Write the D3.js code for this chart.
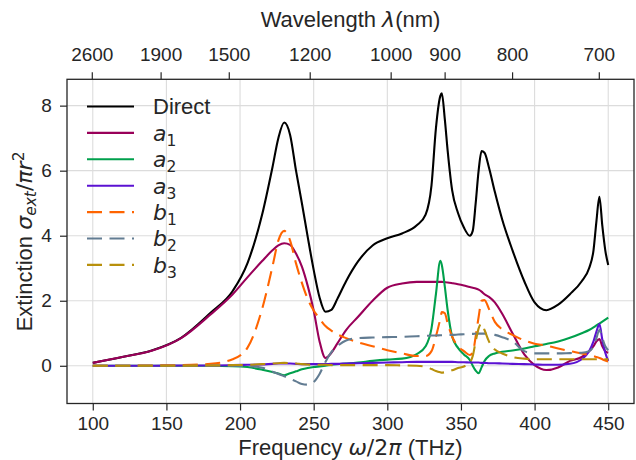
<!DOCTYPE html>
<html><head><meta charset="utf-8">
<script src="https://cdn.jsdelivr.net/npm/d3@7"></script>
<style>body{margin:0;background:#fff} svg{display:block}</style>
</head><body>
<script>
// ---------------- data ----------------
const freq = [100,120,140,160,180,195,205,215,222,226,230,234,238,242,246,250,254,258,262,266,272,280,290,300,310,320,326,330,333,336,337,339,341,344,348,352,356,358,360,362,364,366,369,373,378,385,393,400,408,416,424,432,437,440,442,444,446,448,450];
const direct = [0.09,0.27,0.47,0.86,1.63, 2.3,3.15,4.65,6.1,7.0, 7.48,7.1,6.0,5.0,3.95, 2.95,2.1,1.66,1.72,2.05, 2.6,3.2,3.7,3.92,4.07, 4.32,4.65,5.55,7.3,8.3, 8.38,7.6,6.6,5.4,4.7, 4.25,4.0,4.15,5.0,6.0, 6.6,6.55,6.1,5.35,4.5, 3.55,2.6,1.95,1.71,1.88, 2.2,2.6,3.0,3.55,4.45, 5.2,4.3,3.55,3.1];
const a1 = [0.09,0.27,0.46,0.85,1.58, 2.2,2.72,3.22,3.55,3.7, 3.77,3.72,3.45,3.05,2.45, 1.7,0.75,0.24,0.4,0.68, 1.1,1.5,2.0,2.4,2.53, 2.58,2.58,2.58,2.58,2.58, 2.58,2.57,2.56,2.54,2.51, 2.47,2.42,2.4,2.38,2.34, 2.28,2.2,2.12,1.95,1.6, 1.0,0.35,0.02,-0.13,-0.05, 0.15,0.27,0.45,0.6,0.75, 0.82,0.6,0.45,0.4];
const a2 = [0,0,0,0,0, -0.01,-0.04,-0.12,-0.19,-0.24, -0.29,-0.23,-0.17,-0.11,-0.07, -0.04,-0.02,0.0,0.03,0.05, 0.07,0.1,0.15,0.19,0.22, 0.36,0.6,1.15,2.2,3.23, 3.1,2.45,1.7,0.9,0.55, 0.35,0.18,0.0,-0.15,-0.23, -0.05,0.15,0.3,0.38,0.43, 0.47,0.53,0.6,0.67,0.75, 0.86,1.0,1.1,1.18,1.24, 1.3,1.36,1.42,1.48];
const a3 = [0,0,0,0.01,0.01, 0.02,0.03,0.04,0.06,0.07, 0.07,0.07,0.06,0.05,0.05, 0.05,0.05,0.05,0.06,0.06, 0.07,0.08,0.09,0.1,0.11, 0.12,0.12,0.12,0.12,0.12, 0.12,0.12,0.12,0.12,0.11, 0.11,0.1,0.1,0.1,0.1, 0.09,0.09,0.08,0.08,0.07, 0.06,0.05,0.04,0.03,0.03, 0.06,0.2,0.45,0.75,1.05, 1.28,0.8,0.4,0.15];
const b1 = [0,0,0.01,0.02,0.06, 0.2,0.55,1.75,3.05,3.85, 4.15,3.85,3.15,2.55,2.05, 1.7,1.45,1.22,1.08,0.97, 0.85,0.72,0.6,0.48,0.38, 0.3,0.3,0.45,0.9,1.45, 1.65,1.62,1.3,0.9,0.6, 0.45,0.33,0.4,0.9,1.5, 2.0,2.02,1.75,1.35,1.12, 0.95,0.78,0.68,0.62,0.53, 0.45,0.38,0.33,0.3,0.27, 0.24,0.2,0.16,0.13];
const b2 = [0,0,0,0,0, 0,-0.01,-0.06,-0.18,-0.25, -0.32,-0.4,-0.48,-0.56,-0.58, -0.5,-0.25,0.12,0.42,0.6, 0.78,0.85,0.87,0.88,0.89, 0.91,0.92,0.93,0.93,0.94, 0.94,0.94,0.95,0.95,0.96, 0.97,0.98,0.98,0.99,0.99, 0.99,0.99,0.98,0.95,0.88, 0.75,0.45,0.38,0.38,0.38, 0.39,0.4,0.45,0.6,0.85, 1.1,0.85,0.6,0.48];
const b3 = [0,0,0,0,0.01, 0.02,0.03,0.05,0.07,0.08, 0.09,0.08,0.07,0.05,0.04, 0.03,0.03,0.03,0.02,0.02, 0.02,0.02,0.02,0.02,0.01, 0.0,-0.03,-0.1,-0.16,-0.2, -0.21,-0.2,-0.18,-0.14,-0.07, -0.02,0.1,0.3,0.75,1.15, 1.3,1.1,0.75,0.5,0.38, 0.27,0.22,0.2,0.2,0.2, 0.2,0.2,0.2,0.2,0.2, 0.21,0.2,0.2,0.2];

const xTicks = [100,150,200,250,300,350,400,450];
const yTicks = [0,2,4,6,8];
const wavelengthTicks = [2600,1900,1500,1200,1000,900,800,700];

// ---------------- styling ----------------
const series = [
  {name:"Direct", sub:null, values:direct, color:"#000000", dash:null},
  {name:"a", sub:"1", values:a1, color:"#990059", dash:null},
  {name:"a", sub:"2", values:a2, color:"#00a04c", dash:null},
  {name:"a", sub:"3", values:a3, color:"#5b12d2", dash:null},
  {name:"b", sub:"1", values:b1, color:"#ff6400", dash:"15,7.5"},
  {name:"b", sub:"2", values:b2, color:"#627c92", dash:"15,7.5"},
  {name:"b", sub:"3", values:b3, color:"#b8900c", dash:"15,7.5"}
];

const W = 636, H = 460;
const L = 67, R = 634, T = 79.3, B = 403.5;
const FONT = "'Liberation Sans', Arial, sans-serif";
const MATH = "'DejaVu Sans', sans-serif";
const TXT = "#262626";

const svg = d3.select("body").append("svg").attr("width", W).attr("height", H)
  .style("font-family", FONT);

const x = d3.scaleLinear().domain([82.5, 467.5]).range([L, R]);
const y = d3.scaleLinear().domain([-1.16, 8.81]).range([B, T]);
const xTop = d3.scaleLinear().domain([100, 450]).range([L, R]);
const c = 299792.458; // nm*THz

// grid
const grid = svg.append("g");
grid.selectAll("line.vx").data(xTicks).join("line")
  .attr("x1", d => x(d)).attr("x2", d => x(d)).attr("y1", T).attr("y2", B)
  .attr("stroke", "#dcdcdc").attr("stroke-width", 1.1);
grid.selectAll("line.hy").data(yTicks).join("line")
  .attr("y1", d => y(d)).attr("y2", d => y(d)).attr("x1", L).attr("x2", R)
  .attr("stroke", "#dcdcdc").attr("stroke-width", 1.1);

// lines
svg.append("clipPath").attr("id", "clip").append("rect")
  .attr("x", L).attr("y", T).attr("width", R - L).attr("height", B - T);
const line = d3.line().x(d => x(d[0])).y(d => y(d[1])).curve(d3.curveMonotoneX);
const plot = svg.append("g").attr("clip-path", "url(#clip)");
series.forEach(s => {
  plot.append("path")
    .attr("d", line(freq.map((f, i) => [f, s.values[i]])))
    .attr("fill", "none").attr("stroke", s.color).attr("stroke-width", 2.1)
    .attr("stroke-linejoin", "round")
    .attr("stroke-dasharray", s.dash);
});

// axes
function styleAxis(g) {
  g.select(".domain").remove();
  g.selectAll(".tick line").attr("stroke", TXT).attr("stroke-width", 1.2);
  g.selectAll(".tick text").attr("fill", TXT).style("font-size", "19px").style("font-family", FONT);
}
svg.append("g").attr("transform", `translate(0,${B})`)
  .call(d3.axisBottom(x).tickValues(xTicks).tickSize(7).tickPadding(5.8).tickFormat(d3.format("d")))
  .call(styleAxis);
svg.append("g").attr("transform", `translate(${L},0)`)
  .call(d3.axisLeft(y).tickValues(yTicks).tickSize(7).tickPadding(8.3).tickFormat(d3.format("d")))
  .call(styleAxis);
svg.append("g").attr("transform", `translate(0,${T})`)
  .call(d3.axisTop(xTop).tickValues(wavelengthTicks.map(l => c / l)).tickSize(7).tickPadding(11)
    .tickFormat((d, i) => wavelengthTicks[i]))
  .call(styleAxis);

// frame
svg.append("rect").attr("x", L).attr("y", T).attr("width", R - L).attr("height", B - T)
  .attr("fill", "none").attr("stroke", TXT).attr("stroke-width", 1.3);

// axis titles
const xt = svg.append("text").attr("x", (L + R) / 2).attr("y", 455).attr("text-anchor", "middle")
  .attr("fill", TXT).style("font-size", "22px");
xt.append("tspan").text("Frequency ");
xt.append("tspan").style("font-family", MATH).style("font-style", "italic").text("ω");
xt.append("tspan").style("font-family", MATH).text("/2");
xt.append("tspan").style("font-family", MATH).style("font-style", "italic").text("π");
xt.append("tspan").text(" (THz)");

const tt = svg.append("text").attr("x", (L + R) / 2).attr("y", 27).attr("text-anchor", "middle")
  .attr("fill", TXT).style("font-size", "22px");
tt.append("tspan").text("Wavelength ");
tt.append("tspan").style("font-family", MATH).style("font-style", "italic").text("λ");
tt.append("tspan").text("(nm)");

const yt = svg.append("text").attr("transform", `translate(31.5,${(T + B) / 2}) rotate(-90)`)
  .attr("text-anchor", "middle").attr("fill", TXT).style("font-size", "22px");
yt.append("tspan").text("Extinction ");
yt.append("tspan").style("font-family", MATH).style("font-style", "italic").text("σ");
yt.append("tspan").style("font-family", MATH).style("font-style", "italic").style("font-size", "15.5px").attr("dy", 4).text("ext");
yt.append("tspan").style("font-family", MATH).attr("dy", -4).text("/");
yt.append("tspan").style("font-family", MATH).style("font-style", "italic").text("πr");
yt.append("tspan").style("font-family", MATH).style("font-size", "15.5px").attr("dy", -8).text("2");

// legend
const leg = svg.append("g");
series.forEach((s, i) => {
  const ly = 106.5 + i * 26.4;
  leg.append("line").attr("x1", 87).attr("x2", 134).attr("y1", ly).attr("y2", ly)
    .attr("stroke", s.color).attr("stroke-width", 2.1).attr("stroke-dasharray", s.dash);
  const t = leg.append("text").attr("x", 153).attr("y", ly + 7.8).attr("fill", TXT).style("font-size", "22px");
  if (s.sub === null) {
    t.text(s.name);
  } else {
    t.append("tspan").style("font-family", MATH).style("font-style", "italic").text(s.name);
    t.append("tspan").style("font-family", MATH).style("font-size", "15.5px").attr("dy", 5).text(s.sub);
  }
});
</script>
</body></html>
